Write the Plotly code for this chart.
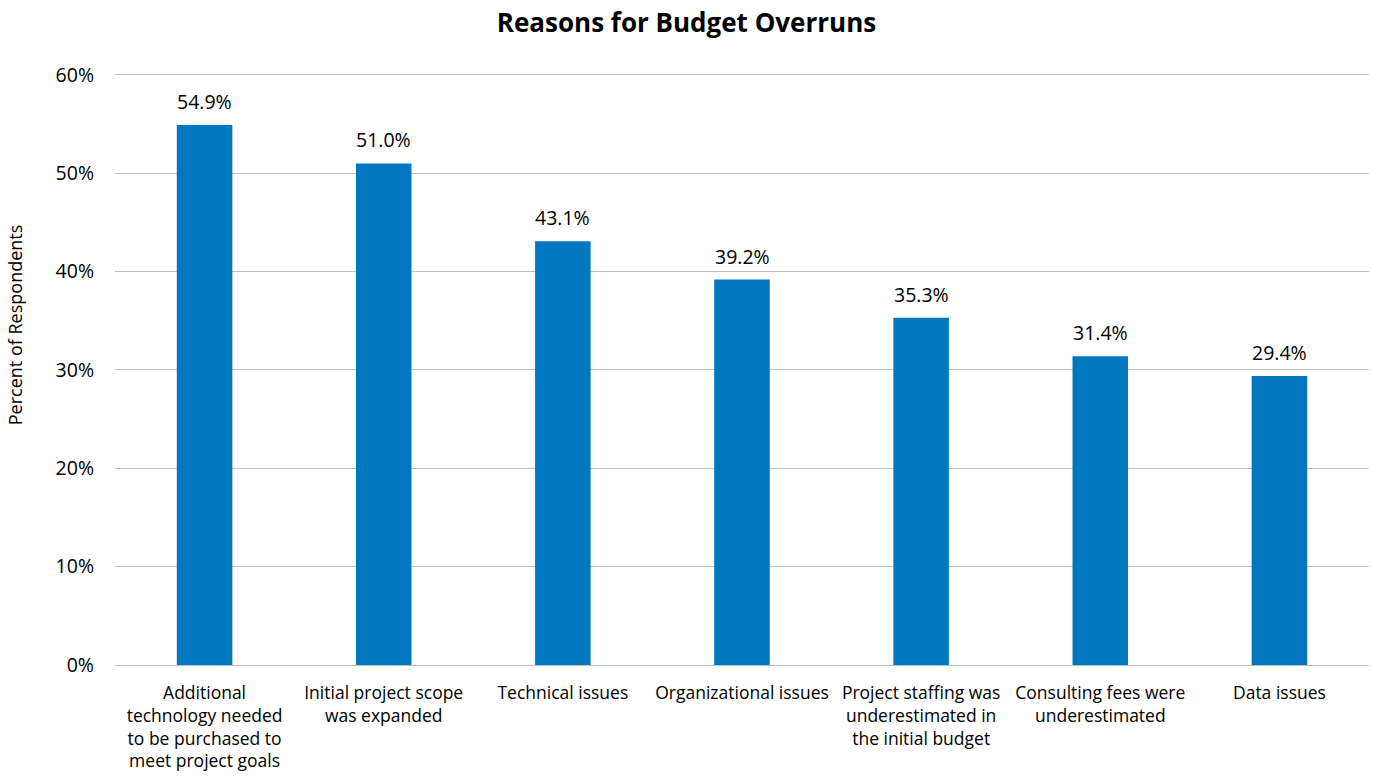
import plotly.graph_objects as go

categories = [
    "Additional<br>technology needed<br>to be purchased to<br>meet project goals",
    "Initial project scope<br>was expanded",
    "Technical issues",
    "Organizational issues",
    "Project staffing was<br>underestimated in<br>the initial budget",
    "Consulting fees were<br>underestimated",
    "Data issues",
]
values = [0.549, 0.510, 0.431, 0.392, 0.353, 0.314, 0.294]
labels = ["54.9%", "51.0%", "43.1%", "39.2%", "35.3%", "31.4%", "29.4%"]
ytick_vals = [0, 0.1, 0.2, 0.3, 0.4, 0.5, 0.6]

FONT = "Open Sans, sans-serif"

fig = go.Figure(
    go.Bar(
        x=categories,
        y=values,
        marker=dict(color="#0077BE", line=dict(width=0)),
    )
)

for c, v, t in zip(categories, values, labels):
    fig.add_annotation(
        x=c, y=v, text=t, showarrow=False, yanchor="bottom", yshift=8,
        font=dict(size=19.5, family=FONT, color="#000000"),
    )

fig.add_annotation(
    xref="paper", yref="paper", x=0, y=0.573, xanchor="center", yanchor="middle",
    xshift=-100, textangle=-90, showarrow=False, text="Percent of Respondents",
    font=dict(size=18, family=FONT, color="#000000"),
)

fig.update_layout(
    width=1373,
    height=777,
    margin=dict(l=115, r=4, t=72, b=112),
    paper_bgcolor="white",
    plot_bgcolor="white",
    bargap=0.69,
    showlegend=False,
    font=dict(family=FONT, color="#000000"),
    title=dict(
        text="<b>Reasons for Budget Overruns</b>",
        x=0.5,
        xanchor="center",
        y=0.971,
        yanchor="middle",
        font=dict(size=26, family=FONT, color="#000000"),
    ),
)

fig.update_yaxes(
    range=[0, 0.603],
    tickvals=ytick_vals,
    tickformat=".0%",
    showgrid=True,
    gridcolor="#BFBFBF",
    gridwidth=1,
    zeroline=False,
    showline=False,
    ticks="",
    ticklabelstandoff=20,
    tickfont=dict(size=19.5, family=FONT, color="#000000"),
)

fig.update_xaxes(
    showline=True,
    linecolor="#BFBFBF",
    linewidth=1,
    ticks="",
    tickangle=0,
    ticklabelstandoff=12,
    tickfont=dict(size=17.5, family=FONT, color="#000000"),
)

fig.write_html("out.html")
